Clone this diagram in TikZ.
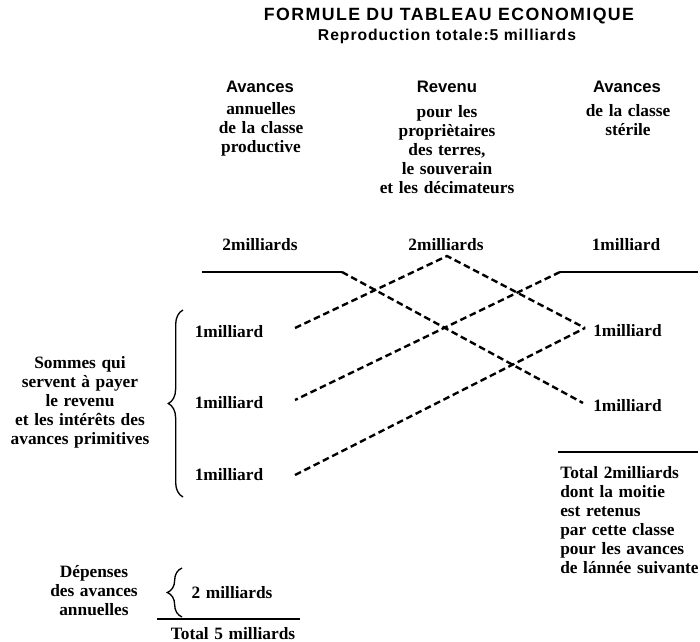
\documentclass[tikz,border=0pt]{standalone}
\usepackage{fontspec}
\setmainfont{Liberation Serif}[WordSpace=1.3]
\newfontfamily\hdsans{Liberation Sans}
\newfontfamily\titlefont{Liberation Sans}[LetterSpace=8]
\newfontfamily\subfont{Liberation Sans}[LetterSpace=6]
\usetikzlibrary{decorations.pathreplacing}
\tikzset{
  txt/.style={font=\bfseries\fontsize{13}{14.25}\selectfont, inner sep=0pt, align=center},
  hd/.style={font=\hdsans\bfseries\fontsize{12.5}{14}\selectfont, inner sep=0pt},
  ttl/.style={font=\titlefont\bfseries\fontsize{13.3}{15}\selectfont, inner sep=0pt},
  subttl/.style={font=\subfont\bfseries\fontsize{11.8}{13}\selectfont, inner sep=0pt},
  rule/.style={line width=1.4pt},
  flow/.style={line width=1.8pt, dash pattern=on 5pt off 2.8pt},
  bigbrace/.style={decorate, decoration={brace, amplitude=11pt}, line width=1pt}
}
\begin{document}
\begin{tikzpicture}[x=0.75pt,y=-0.75pt]
\useasboundingbox (0,0) rectangle (700,642);
% titles
\node[ttl] (title) at (449,16) {FORMULE DU TABLEAU ECONOMIQUE};
\node[subttl] (sub) at (447,36) {Reproduction totale:5 milliards};
% column headers
\node[hd] (hA) at (260,87) {Avances};
\node[txt] (hA2) at (261,129) {annuelles\\de la classe\\productive};
\node[hd] (hR) at (447,87) {Revenu};
\node[txt] (hR2) at (447,149.5) {pour les\\propriètaires\\des terres,\\le souverain\\et les décimateurs};
\node[hd] (hS) at (627,87) {Avances};
\node[txt] (hS2) at (628,120.5) {de la classe\\stérile};
% amounts
\node[txt] (a1) at (260,245) {2milliards};
\node[txt] (a2) at (446,245) {2milliards};
\node[txt] (a3) at (626,245) {1milliard};
% rules under amounts
\coordinate (p1) at (202,272);
\coordinate (p2) at (342,272);
\coordinate (p3) at (560,272);
\coordinate (p4) at (698,272);
\coordinate (apex) at (447,256);
\draw[rule] (p1) -- (p2);
\draw[rule] (p3) -- (p4);
% left labels
\node[txt] (l1) at (229,332) {1milliard};
\node[txt] (l2) at (229,403) {1milliard};
\node[txt] (l3) at (229,475) {1milliard};
\coordinate (l1e) at (295,328);
\coordinate (l2e) at (295,400);
\coordinate (l3e) at (295,475);
% right labels
\node[txt,anchor=west] (r1) at (593,331) {1milliard};
\node[txt,anchor=west] (r2) at (593,406) {1milliard};
\coordinate (r1e) at (585,328);
\coordinate (r2e) at (583,403);
% flows
\draw[flow] (l1e) -- (apex) -- (r1e);
\draw[flow] (p2) -- (r2e);
\draw[flow] (p3) -- (l2e);
\draw[flow] (l3e) -- (r1e);
% big brace and its text
\coordinate (bb1) at (183,497);
\coordinate (bb2) at (183,310);
\draw[bigbrace] (bb1) -- (bb2);
\node[txt] (som) at (80,402) {Sommes qui\\servent à payer\\le revenu\\et les intérêts des\\avances primitives};
% bottom
\node[txt] (dep) at (94,591) {Dépenses\\des avances\\annuelles};
\coordinate (sb1) at (182,617);
\coordinate (sb2) at (182,568);
\draw[bigbrace] (sb1) -- (sb2);
\node[txt] (b2) at (232,593) {2 milliards};
\coordinate (q1) at (157,619);
\coordinate (q2) at (300,619);
\draw[rule] (q1) -- (q2);
\node[txt] (t5) at (233,634) {Total 5 milliards};
% right bottom block
\coordinate (s1) at (558,452);
\coordinate (s2) at (698,452);
\draw[rule] (s1) -- (s2);
\node[txt, align=left, anchor=west] (rb) at (560,520) {Total 2milliards\\dont la moitie\\est retenus\\par cette classe\\pour les avances\\de lánnée suivante};
\end{tikzpicture}
\end{document}
